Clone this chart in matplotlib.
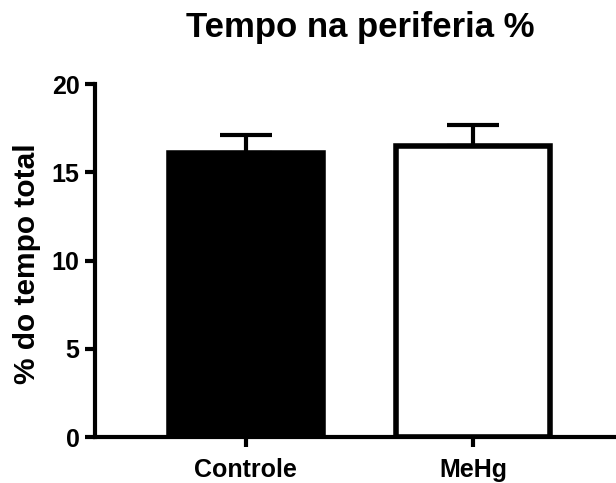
import matplotlib.pyplot as plt
import numpy as np

plt.rcParams['font.family'] = ['Liberation Sans', 'DejaVu Sans']
plt.rcParams['font.weight'] = 'bold'

groups = ["Controle", "MeHg"]
means  = [16.07, 16.48]
sem    = [1.04, 1.18]
faces  = ["black", "white"]

fig = plt.figure( figsize=(6.16, 4.83), dpi=100 )
ax  = fig.add_axes( [0.154, 0.095, 0.846, 0.731] )

x = np.arange( len(groups) )

for i in range( len(groups) ):
    ax.errorbar( x[i], means[i], yerr=[[0], [sem[i]]], fmt='none', ecolor="black",
                 elinewidth=3, capsize=19, capthick=3, zorder=1 )
    ax.bar( x[i], means[i], width=0.675, color=faces[i], edgecolor="black",
            linewidth=4, zorder=2 )

ax.set_xlim( -0.665, 1.63 )
ax.set_ylim( 0, 20 )
ax.set_yticks( [0, 5, 10, 15, 20] )
ax.set_xticks( x )
ax.set_xticklabels( groups, fontsize=18, fontweight='bold' )
ax.tick_params( axis='y', labelsize=18, width=3, length=7, pad=4 )
ax.tick_params( axis='x', width=3, length=7, pad=8 )

for side in ["top", "right"]:
    ax.spines[side].set_visible(False)
for side in ["left", "bottom"]:
    ax.spines[side].set_linewidth(3)

ax.set_ylabel( "% do tempo total", fontsize=21.5, fontweight='bold' )
ax.yaxis.set_label_coords( -0.103, 0.49 )
fig.text( 0.585, 0.944, "Tempo na periferia %", fontsize=25, fontweight='bold',
          ha='center', va='center' )

plt.savefig( "out.png" )
plt.close(fig)
